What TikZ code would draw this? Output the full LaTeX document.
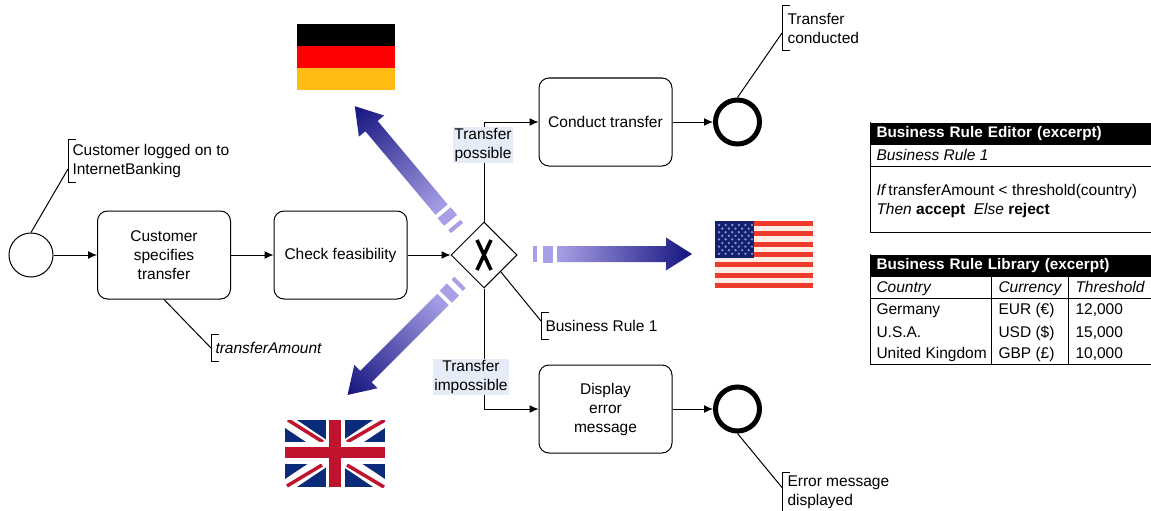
\documentclass[tikz,border=0pt]{standalone}
\usepackage{fontspec}
\setmainfont{Liberation Sans}
\usetikzlibrary{shapes, arrows.meta, positioning}
\definecolor{labelbg}{HTML}{E6ECF7}
\definecolor{arrowlight}{HTML}{A8A0E6}
\definecolor{arrowdark}{HTML}{14147F}
\definecolor{gergold}{HTML}{FFBC14}
\definecolor{usred}{HTML}{EE3A2D}
\definecolor{uswhite}{HTML}{FDEDE5}
\definecolor{usblue}{HTML}{14206E}
\definecolor{usstar}{HTML}{8494D6}
\definecolor{ukblue}{HTML}{0A2A7A}
\definecolor{ukred}{HTML}{C0142E}
\tikzstyle{every node}=[font=\fontsize{15.5}{19}\selectfont]
\tikzstyle{block}=[draw,fill=white,rectangle,rounded corners=10pt,align=center,minimum width=133pt,minimum height=88pt,inner sep=0pt]
\tikzstyle{startevent}=[draw,fill=white,circle,minimum size=44pt,inner sep=0pt]
\tikzstyle{endevent}=[draw,fill=white,circle,line width=5pt,minimum size=44pt,inner sep=0pt]
\tikzstyle{gateway}=[draw,fill=white,diamond,minimum width=66pt,minimum height=66pt,inner sep=0pt]
\tikzstyle{note}=[anchor=west,align=left,inner ysep=0pt,inner xsep=4pt]
\tikzstyle{edgelabel}=[fill=labelbg,align=center,inner sep=1pt]
\tikzstyle{tablehead}=[fill=black,text=white,anchor=north west,align=left,text width=270pt,inner xsep=6pt,inner ysep=0pt,minimum height=22pt,font=\fontsize{15.3}{19}\selectfont\bfseries]
\tikzstyle{cell}=[anchor=base west,inner sep=0pt]
\newcommand{\notebracket}[1]{\draw ([xshift=8pt]#1.north west) -- (#1.north west) -- (#1.south west) -- ([xshift=8pt]#1.south west);}
\newcommand{\flagarrow}[2]{
    \begin{scope}[transform canvas={shift={(#1)},rotate=#2}]
        \fill[arrowlight] (0,-8) rectangle (4,8);
        \fill[arrowlight] (10,-8.5) rectangle (20,8.5);
        \shade[left color=arrowlight,right color=arrowdark] (24,-8) -- (133,-8) -- (133,-16.5) -- (159,0) -- (133,16.5) -- (133,8) -- (24,8) -- cycle;
    \end{scope}
}

\begin{document}
\begin{tikzpicture}[x=1pt,y=-1pt,>={Latex[length=9pt,width=8pt]},line width=1pt]
    \useasboundingbox (0,0) rectangle (1151,511);
    \node[startevent] (start) at (31,255) {};
    \node[block, right of=start, node distance=133pt] (specify) {Customer\\specifies\\transfer};
    \node[block, right of=specify, node distance=176.5pt] (check) {Check feasibility};
    \node[gateway, right of=check, node distance=143.5pt] (gw) {};
    \node[block, right of=gw, node distance=121.5pt, yshift=133pt] (conduct) {Conduct transfer};
    \node[block, right of=gw, node distance=121.5pt, yshift=-154pt] (display) {Display\\error\\message};
    \node[endevent, right of=conduct, node distance=132pt] (end1) {};
    \node[endevent, right of=display, node distance=132pt] (end2) {};
    \node[note, minimum height=42pt] (nlogon) at (68,161) {Customer logged on to\\InternetBanking};
    \node[note, minimum height=26pt] (namount) at (211,348) {\textit{transferAmount}};
    \node[note, minimum height=26pt] (nrule) at (541,326) {Business Rule 1};
    \node[note, minimum height=44pt, inner xsep=5pt] (ndone) at (782,28) {Transfer\\conducted};
    \node[note, minimum height=40pt, inner xsep=5pt] (nerror) at (782,492.5) {Error message\\displayed};
    \draw[->] (start) -- (specify);
    \draw[->] (specify) -- (check);
    \draw[->] (check) -- (gw);
    \draw[->] (gw.north) |- (conduct.west);
    \draw[->] (gw.south) |- (display.west);
    \draw[->] (conduct) -- (end1);
    \draw[->] (display) -- (end2);
    \draw (start.north) -- ([yshift=-8pt]nlogon.west);
    \draw (specify.south) -- (namount.west);
    \draw (gw.south east) -- ([yshift=5pt]nrule.west);
    \draw (end1.north) -- ([yshift=-5pt]ndone.west);
    \draw (end2.south) -- ([yshift=5pt]nerror.west);
    \notebracket{nlogon}
    \notebracket{namount}
    \notebracket{nrule}
    \notebracket{ndone}
    \notebracket{nerror}
    \draw[line width=3.6pt] ([shift={(-7,-15)}]gw.center) -- ([shift={(7,15)}]gw.center);
    \draw[line width=3.6pt] ([shift={(7,-15)}]gw.center) -- ([shift={(-7,15)}]gw.center);
    \node[edgelabel] (lpossible) at (483,145) {Transfer\\possible};
    \node[edgelabel] (limpossible) at (471,377) {Transfer\\impossible};
    \flagarrow{457,228}{130}
    \flagarrow{533,254}{0}
    \flagarrow{460,282.5}{225}
    \fill[black] (297,24) rectangle (395,46.5);
    \fill[red] (297,46.5) rectangle (395,68);
    \fill[gergold] (297,68) rectangle (395,90);
    \fill[usred] (715,221) rectangle (813,288);
    \foreach \i in {1,3,...,11}
        \fill[uswhite] (715,221+\i*5.15) rectangle (813,221+\i*5.15+5.15);
    \fill[usblue] (715,221) rectangle (754,257.5);
    \foreach \r in {0,2,...,8}
        \foreach \c in {0,...,5}
            \fill[usstar] (719+\c*6.6,225+\r*3.6) circle (1.3);
    \foreach \r in {1,3,...,7}
        \foreach \c in {0,...,4}
            \fill[usstar] (722.3+\c*6.6,225+\r*3.6) circle (1.3);
    \begin{scope}
        \clip (285,420) rectangle (385,487);
        \fill[ukblue] (285,420) rectangle (385,487);
        \draw[white,line width=13pt] (285,420) -- (385,487);
        \draw[white,line width=13pt] (385,420) -- (285,487);
        \draw[ukred,line width=3.5pt] (288,420) -- (323,442);
        \draw[ukred,line width=3.5pt] (347,442) -- (385,420);
        \draw[ukred,line width=3.5pt] (287,486) -- (322,465);
        \draw[ukred,line width=3.5pt] (347,465) -- (384,487);
        \fill[white] (325.5,420) rectangle (344.5,487);
        \fill[white] (285,442) rectangle (385,464);
        \fill[ukred] (329,420) rectangle (341,487);
        \fill[ukred] (285,447) rectangle (385,458);
    \end{scope}
    \node[tablehead] (edhead) at (870,122) {Business Rule Editor (excerpt)};
    \node[cell] (edname) at (876,160) {\textit{Business Rule 1}};
    \node[cell] (edif) at (876,195) {\textit{If}\hspace{2pt}transferAmount < threshold(country)};
    \node[cell] (edthen) at (876,214) {\textit{Then} \textbf{accept} \ \textit{Else} \textbf{reject}};
    \draw (870,122) -- (870,232) -- (1151,232);
    \draw (870,166) -- (1151,166);
    \node[tablehead] (libhead) at (870,254) {Business Rule Library (excerpt)};
    \node[cell] (libcountry) at (876,292) {\textit{Country}};
    \node[cell] (libcurrency) at (998,292) {\textit{Currency}};
    \node[cell] (libthreshold) at (1075,292) {\textit{Threshold}};
    \foreach \i/\land/\cur/\lim/\ypos in {1/Germany/EUR (€)/{12,000}/314, 2/U.S.A./USD (\$)/{15,000}/337, 3/United Kingdom/GBP (£)/{10,000}/358} {
        \node[cell] (land\i) at (876,\ypos) {\land};
        \node[cell] (cur\i) at (998,\ypos) {\cur};
        \node[cell] (lim\i) at (1075,\ypos) {\lim};
    }
    \draw (870,254) -- (870,364) -- (1151,364);
    \draw (870,298) -- (1151,298);
    \draw (991,277) -- (991,364);
    \draw (1068,277) -- (1068,364);
\end{tikzpicture}
\end{document}
